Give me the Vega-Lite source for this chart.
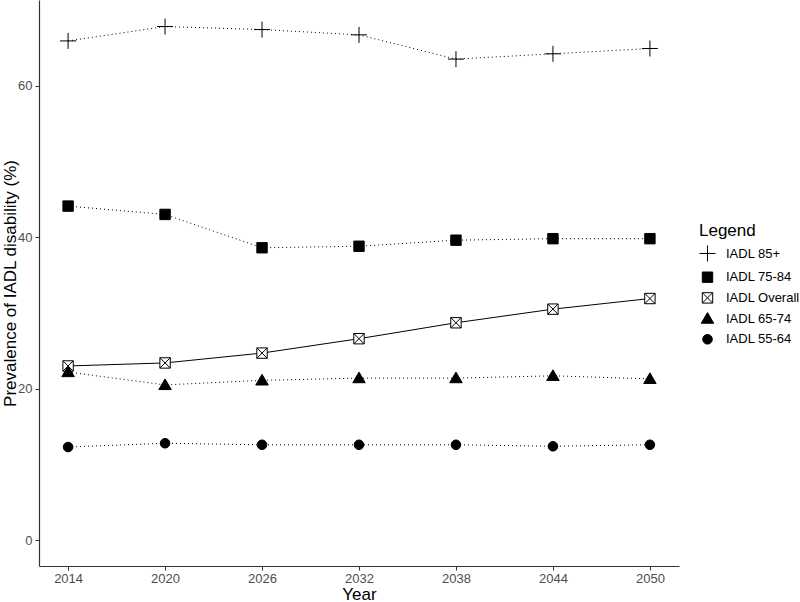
{
  "$schema": "https://vega.github.io/schema/vega-lite/v6.json",
  "width": 640,
  "height": 566,
  "autosize": "none",
  "padding": {"left": 39, "top": 0, "right": 121, "bottom": 36},
  "background": "white",
  "config": {
    "view": {"stroke": null},
    "font": "Liberation Sans",
    "axis": {
      "grid": false,
      "domainColor": "#333333",
      "domainWidth": 1.2,
      "tickColor": "#333333",
      "tickSize": 4,
      "labelColor": "#4d4d4d",
      "labelFont": "Liberation Sans",
      "labelFontSize": 13,
      "titleFont": "Liberation Sans",
      "titleFontSize": 17,
      "titleFontWeight": "normal",
      "titleColor": "black"
    },
    "legend": {
      "titleFont": "Liberation Sans",
      "titleFontSize": 17,
      "titleFontWeight": "normal",
      "titleColor": "black",
      "labelFont": "Liberation Sans",
      "labelFontSize": 13,
      "labelColor": "black",
      "symbolSize": 256,
      "symbolStrokeColor": "black",
      "symbolStrokeWidth": 1
    }
  },
  "data": {
    "values": [
      {"year": 2014, "group": "IADL 85+", "value": 65.9},
      {"year": 2020, "group": "IADL 85+", "value": 67.8},
      {"year": 2026, "group": "IADL 85+", "value": 67.4},
      {"year": 2032, "group": "IADL 85+", "value": 66.7},
      {"year": 2038, "group": "IADL 85+", "value": 63.5},
      {"year": 2044, "group": "IADL 85+", "value": 64.2},
      {"year": 2050, "group": "IADL 85+", "value": 64.9},
      {"year": 2014, "group": "IADL 75-84", "value": 44.1},
      {"year": 2020, "group": "IADL 75-84", "value": 43.0},
      {"year": 2026, "group": "IADL 75-84", "value": 38.6},
      {"year": 2032, "group": "IADL 75-84", "value": 38.8},
      {"year": 2038, "group": "IADL 75-84", "value": 39.6},
      {"year": 2044, "group": "IADL 75-84", "value": 39.8},
      {"year": 2050, "group": "IADL 75-84", "value": 39.8},
      {"year": 2014, "group": "IADL Overall", "value": 23.0},
      {"year": 2020, "group": "IADL Overall", "value": 23.4},
      {"year": 2026, "group": "IADL Overall", "value": 24.7},
      {"year": 2032, "group": "IADL Overall", "value": 26.6},
      {"year": 2038, "group": "IADL Overall", "value": 28.7},
      {"year": 2044, "group": "IADL Overall", "value": 30.5},
      {"year": 2050, "group": "IADL Overall", "value": 31.9},
      {"year": 2014, "group": "IADL 65-74", "value": 22.2},
      {"year": 2020, "group": "IADL 65-74", "value": 20.5},
      {"year": 2026, "group": "IADL 65-74", "value": 21.1},
      {"year": 2032, "group": "IADL 65-74", "value": 21.4},
      {"year": 2038, "group": "IADL 65-74", "value": 21.4},
      {"year": 2044, "group": "IADL 65-74", "value": 21.7},
      {"year": 2050, "group": "IADL 65-74", "value": 21.3},
      {"year": 2014, "group": "IADL 55-64", "value": 12.3},
      {"year": 2020, "group": "IADL 55-64", "value": 12.8},
      {"year": 2026, "group": "IADL 55-64", "value": 12.6},
      {"year": 2032, "group": "IADL 55-64", "value": 12.6},
      {"year": 2038, "group": "IADL 55-64", "value": 12.6},
      {"year": 2044, "group": "IADL 55-64", "value": 12.4},
      {"year": 2050, "group": "IADL 55-64", "value": 12.6}
    ]
  },
  "encoding": {
    "x": {
      "field": "year",
      "type": "quantitative",
      "title": "Year",
      "scale": {"domain": [2012.2, 2051.8], "nice": false, "zero": false},
      "axis": {"values": [2014, 2020, 2026, 2032, 2038, 2044, 2050], "format": "d", "labelPadding": 2, "titleY": 33, "titleBaseline": "alphabetic"}
    },
    "y": {
      "field": "value",
      "type": "quantitative",
      "title": "Prevalence of IADL disability (%)",
      "scale": {"domain": [-3.4, 71.3], "nice": false, "zero": false},
      "axis": {"values": [0, 20, 40, 60], "labelPadding": 3, "titleX": -20, "titleY": 283}
    }
  },
  "layer": [
    {
      "transform": [{"filter": "datum.group !== 'IADL Overall'"}],
      "mark": {"type": "line", "color": "black", "strokeWidth": 1, "strokeDash": [1, 3]},
      "encoding": {
        "detail": {"field": "group", "type": "nominal"}
      }
    },
    {
      "transform": [{"filter": "datum.group === 'IADL Overall'"}],
      "mark": {"type": "line", "color": "black", "strokeWidth": 1},
      "encoding": {}
    },
    {
      "mark": {"type": "point", "filled": true, "strokeWidth": 1, "opacity": 1, "size": 256},
      "encoding": {
        "shape": {
          "field": "group",
          "type": "nominal",
          "title": "Legend",
          "scale": {
            "domain": ["IADL 85+", "IADL 75-84", "IADL Overall", "IADL 65-74", "IADL 55-64"],
            "range": [
              "M-1,0L1,0M0,-1L0,1",
              "M-0.65,-0.65L0.65,-0.65L0.65,0.65L-0.65,0.65Z",
              "M-0.65,-0.65L0.65,-0.65L0.65,0.65L-0.65,0.65ZM-0.65,-0.65L0.65,0.65M-0.65,0.65L0.65,-0.65",
              "M0,-0.75L0.78,0.58L-0.78,0.58Z",
              "M-0.6,0A0.6,0.6,0,1,1,0.6,0A0.6,0.6,0,1,1,-0.6,0Z"
            ]
          },
          "legend": {
            "orient": "none",
            "legendX": 660,
            "legendY": 223,
            "rowPadding": 4.7,
            "labelOffset": 10,
            "symbolSize": 256,
            "symbolStrokeWidth": 1
          }
        },
        "fill": {
          "field": "group",
          "type": "nominal",
          "title": "Legend",
          "scale": {
            "domain": ["IADL 85+", "IADL 75-84", "IADL Overall", "IADL 65-74", "IADL 55-64"],
            "range": ["black", "black", "white", "black", "black"]
          },
          "legend": {
            "orient": "none",
            "legendX": 660,
            "legendY": 223,
            "rowPadding": 4.7,
            "labelOffset": 10,
            "symbolSize": 256,
            "symbolStrokeWidth": 1
          }
        },
        "stroke": {
          "field": "group",
          "type": "nominal",
          "title": "Legend",
          "scale": {
            "domain": ["IADL 85+", "IADL 75-84", "IADL Overall", "IADL 65-74", "IADL 55-64"],
            "range": ["black", "black", "black", "black", "black"]
          },
          "legend": {
            "orient": "none",
            "legendX": 660,
            "legendY": 223,
            "rowPadding": 4.7,
            "labelOffset": 10,
            "symbolSize": 256,
            "symbolStrokeWidth": 1
          }
        }
      }
    }
  ]
}
